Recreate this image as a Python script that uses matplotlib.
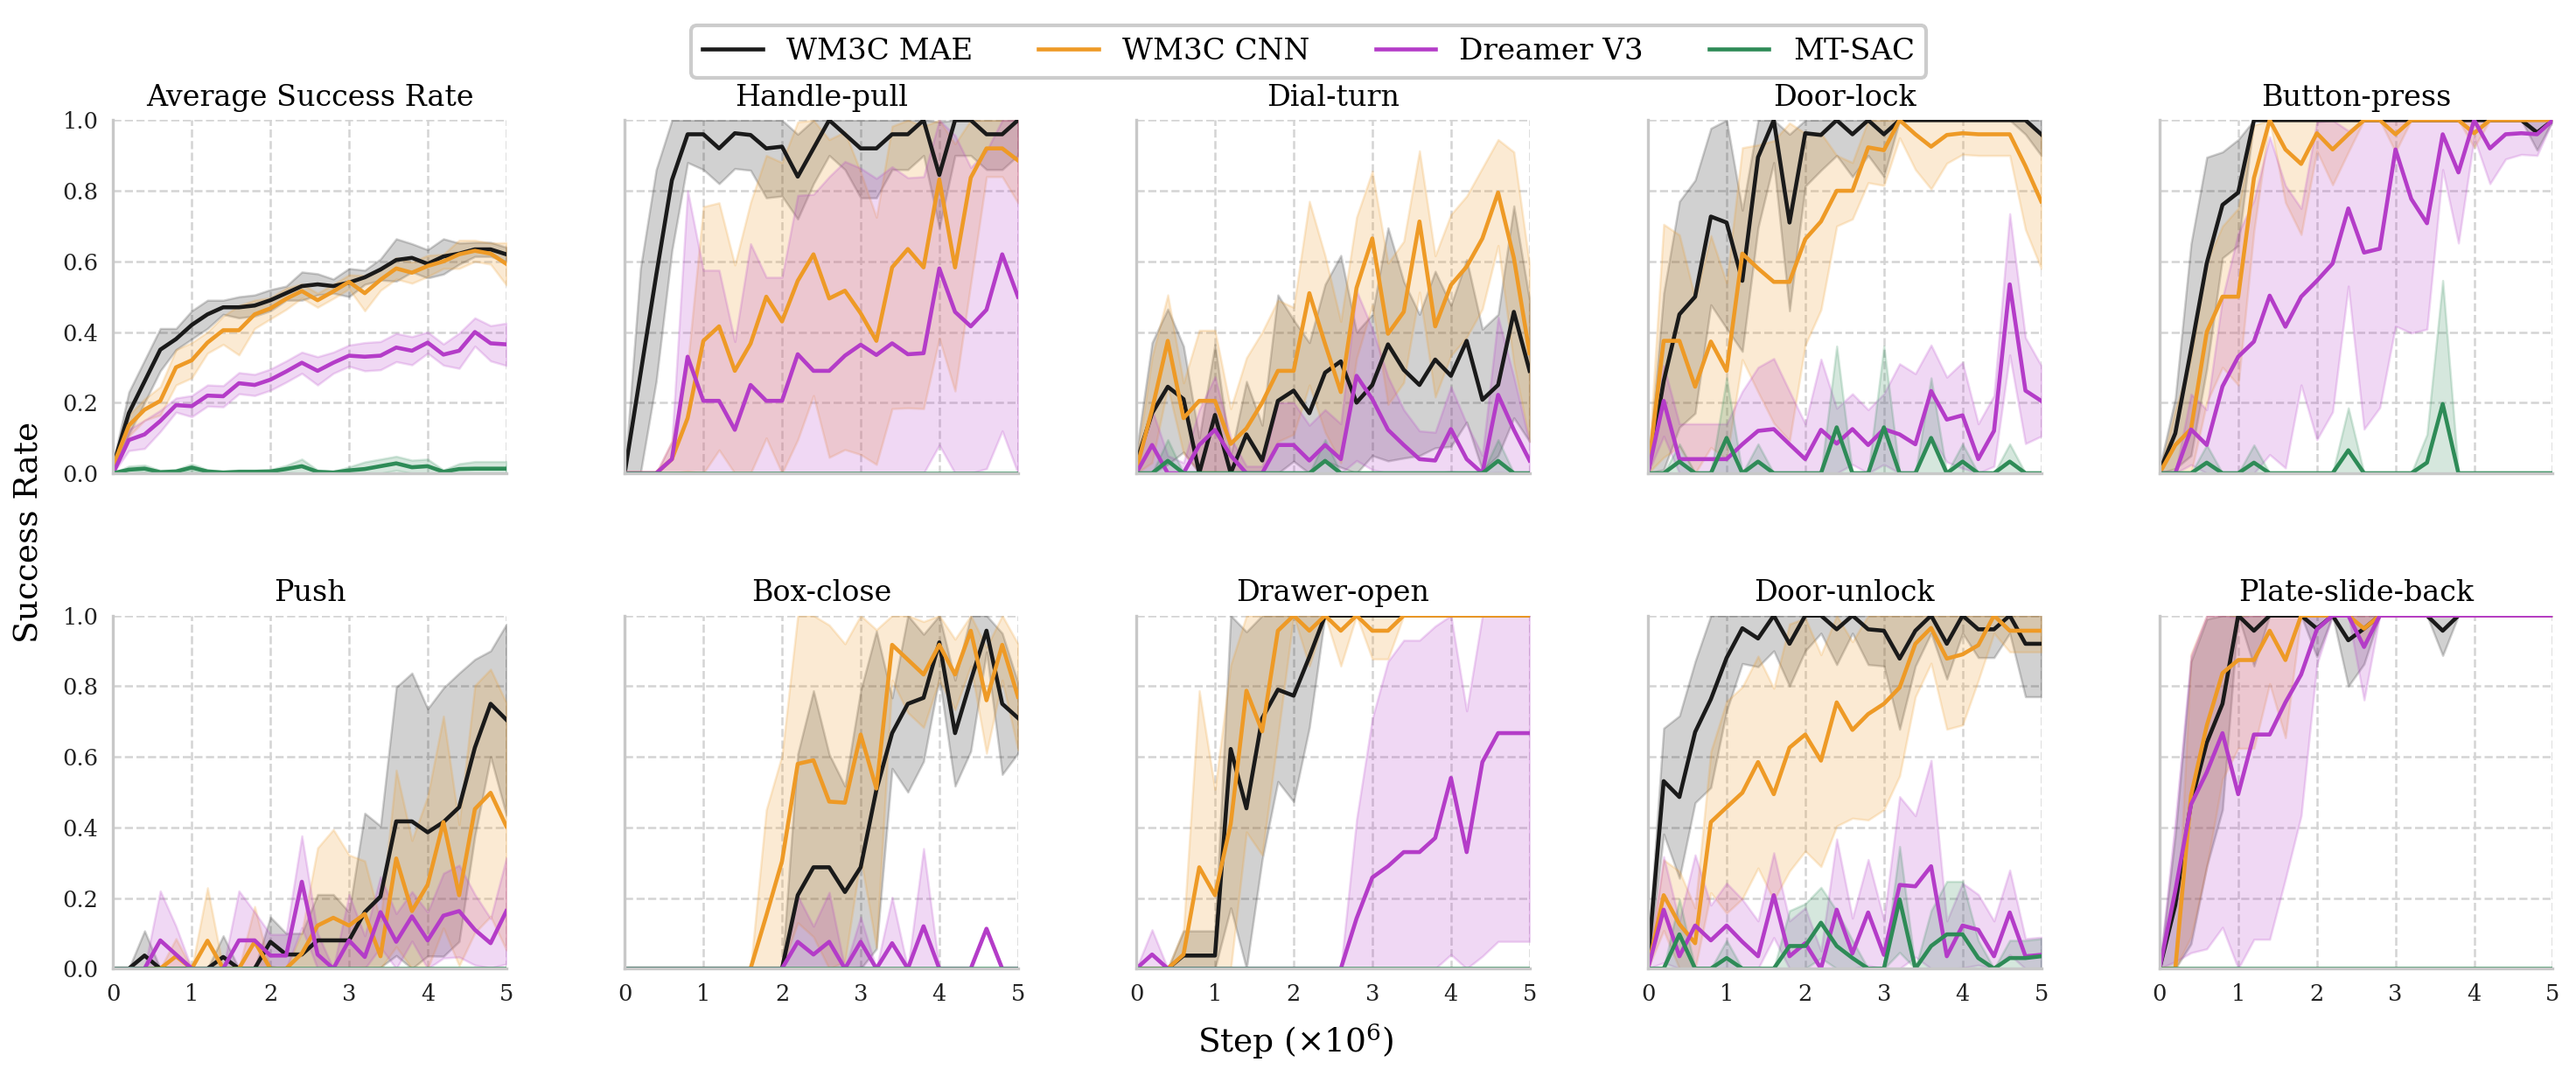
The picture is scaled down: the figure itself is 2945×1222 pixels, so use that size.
import numpy as np
import matplotlib
matplotlib.use("Agg")
import matplotlib.pyplot as plt

# ----------- Data -------------------------------------
STEPS = [0.0, 0.2, 0.4, 0.6, 0.8, 1.0, 1.2, 1.4, 1.6, 1.8, 2.0, 2.2, 2.4,
         2.6, 2.8, 3.0, 3.2, 3.4, 3.6, 3.8, 4.0, 4.2, 4.4, 4.6, 4.8, 5.0]

METHODS = ["WM3C MAE", "WM3C CNN", "Dreamer V3", "MT-SAC"]
TASKS = ["Average Success Rate", "Handle-pull", "Dial-turn", "Door-lock", "Button-press",
         "Push", "Box-close", "Drawer-open", "Door-unlock", "Plate-slide-back"]

ZERO = [0.0] * 26

# Average Success Rate
avg_mae = [0.02, 0.17, 0.26, 0.35, 0.38, 0.42, 0.45, 0.47, 0.47, 0.475, 0.49, 0.51, 0.53,
           0.535, 0.53, 0.54, 0.555, 0.577, 0.604, 0.61, 0.593, 0.614, 0.622, 0.634, 0.634, 0.62]
avg_mae_sd = [0.01, 0.06, 0.06, 0.06, 0.03, 0.04, 0.04, 0.02, 0.03, 0.03, 0.03, 0.02, 0.04,
              0.03, 0.02, 0.04, 0.02, 0.03, 0.06, 0.04, 0.04, 0.05, 0.03, 0.02, 0.02, 0.02]
avg_cnn = [0.02, 0.135, 0.18, 0.205, 0.30, 0.32, 0.37, 0.405, 0.405, 0.45, 0.467, 0.494, 0.516,
           0.49, 0.515, 0.542, 0.51, 0.548, 0.58, 0.568, 0.587, 0.60, 0.62, 0.63, 0.622, 0.593]
avg_cnn_sd = [0.01, 0.03, 0.03, 0.04, 0.05, 0.05, 0.03, 0.04, 0.07, 0.04, 0.03, 0.03, 0.02,
              0.02, 0.02, 0.02, 0.05, 0.03, 0.03, 0.03, 0.03, 0.02, 0.04, 0.03, 0.03, 0.06]
avg_dreamer = [0.0, 0.094, 0.11, 0.148, 0.193, 0.19, 0.22, 0.218, 0.255, 0.25, 0.265, 0.288, 0.313,
               0.29, 0.313, 0.333, 0.33, 0.333, 0.356, 0.347, 0.37, 0.336, 0.347, 0.40, 0.368, 0.365]
avg_dreamer_sd = [0.01, 0.03, 0.04, 0.03, 0.02, 0.03, 0.03, 0.03, 0.03, 0.03, 0.03, 0.03, 0.03,
                  0.04, 0.03, 0.03, 0.04, 0.04, 0.04, 0.04, 0.03, 0.03, 0.05, 0.04, 0.05, 0.06]
avg_sac = [0.0, 0.01, 0.013, 0.003, 0.005, 0.016, 0.005, 0.002, 0.004, 0.004, 0.005, 0.012, 0.02,
           0.004, 0.002, 0.008, 0.012, 0.02, 0.028, 0.017, 0.02, 0.004, 0.012, 0.013, 0.013, 0.013]
avg_sac_sd = [0.0, 0.01, 0.01, 0.005, 0.005, 0.01, 0.005, 0.003, 0.005, 0.005, 0.005, 0.01, 0.02,
              0.005, 0.003, 0.01, 0.02, 0.02, 0.02, 0.02, 0.02, 0.005, 0.015, 0.02, 0.02, 0.02]

# Handle-pull
hp_mae = [0.0, 0.28, 0.56, 0.83, 0.96, 0.96, 0.92, 0.963, 0.958, 0.92, 0.925, 0.84, 0.92,
          1.0, 0.96, 0.92, 0.92, 0.96, 0.96, 1.0, 0.845, 1.0, 1.0, 0.96, 0.96, 1.0]
hp_mae_sd = [0.0, 0.3, 0.3, 0.2, 0.08, 0.1, 0.1, 0.1, 0.1, 0.14, 0.14, 0.12, 0.1,
             0.1, 0.1, 0.14, 0.14, 0.1, 0.1, 0.1, 0.15, 0.1, 0.1, 0.1, 0.1, 0.1]
hp_cnn = [0.0, 0.0, 0.0, 0.04, 0.156, 0.375, 0.416, 0.29, 0.367, 0.5, 0.43, 0.545, 0.62,
          0.495, 0.517, 0.453, 0.375, 0.583, 0.635, 0.583, 0.832, 0.583, 0.837, 0.92, 0.92, 0.886]
hp_cnn_sd = [0.0, 0.0, 0.0, 0.05, 0.15, 0.38, 0.35, 0.3, 0.4, 0.4, 0.45, 0.45, 0.4,
             0.45, 0.45, 0.4, 0.35, 0.4, 0.45, 0.4, 0.45, 0.35, 0.3, 0.08, 0.08, 0.12]
hp_dreamer = [0.0, 0.0, 0.0, 0.04, 0.33, 0.205, 0.205, 0.123, 0.25, 0.205, 0.205, 0.337, 0.29,
              0.29, 0.333, 0.364, 0.335, 0.368, 0.337, 0.34, 0.58, 0.457, 0.416, 0.463, 0.62, 0.5]
hp_dreamer_sd = [0.0, 0.0, 0.0, 0.05, 0.47, 0.37, 0.37, 0.25, 0.4, 0.35, 0.35, 0.45, 0.5,
                 0.55, 0.55, 0.5, 0.5, 0.5, 0.5, 0.5, 0.5, 0.5, 0.45, 0.45, 0.5, 0.5]

# Dial-turn
dt_mae = [0.03, 0.17, 0.245, 0.21, 0.0, 0.165, 0.0, 0.11, 0.036, 0.205, 0.234, 0.17, 0.285,
          0.317, 0.2, 0.25, 0.365, 0.293, 0.25, 0.322, 0.276, 0.375, 0.208, 0.25, 0.457, 0.29]
dt_mae_sd = [0.03, 0.2, 0.22, 0.15, 0.1, 0.2, 0.05, 0.15, 0.1, 0.3, 0.2, 0.2, 0.25,
             0.3, 0.2, 0.2, 0.33, 0.25, 0.2, 0.25, 0.2, 0.23, 0.2, 0.2, 0.3, 0.2]
dt_cnn = [0.01, 0.18, 0.375, 0.156, 0.205, 0.205, 0.083, 0.127, 0.2, 0.29, 0.29, 0.51, 0.366,
          0.23, 0.525, 0.665, 0.395, 0.457, 0.713, 0.416, 0.533, 0.585, 0.665, 0.795, 0.61, 0.34]
dt_cnn_sd = [0.02, 0.15, 0.13, 0.1, 0.2, 0.2, 0.1, 0.2, 0.2, 0.2, 0.18, 0.26, 0.25,
             0.2, 0.2, 0.19, 0.2, 0.2, 0.2, 0.2, 0.2, 0.2, 0.2, 0.15, 0.3, 0.25]
dt_dreamer = [0.0, 0.08, 0.0, 0.0, 0.08, 0.123, 0.05, 0.0, 0.0, 0.08, 0.08, 0.036, 0.08,
              0.04, 0.276, 0.21, 0.123, 0.08, 0.04, 0.036, 0.125, 0.04, 0.0, 0.222, 0.123, 0.036]
dt_dreamer_sd = [0.0, 0.1, 0.05, 0.03, 0.1, 0.15, 0.05, 0.02, 0.02, 0.12, 0.12, 0.1, 0.1,
                 0.1, 0.24, 0.2, 0.15, 0.1, 0.08, 0.08, 0.12, 0.1, 0.05, 0.22, 0.15, 0.05]
dt_sac = [0.0, 0.0, 0.035, 0.0, 0.0, 0.0, 0.0, 0.0, 0.0, 0.0, 0.0, 0.0, 0.035,
          0.0, 0.0, 0.0, 0.0, 0.0, 0.0, 0.0, 0.0, 0.0, 0.0, 0.035, 0.0, 0.0]
dt_sac_sd = [0.0, 0.0, 0.06, 0.0, 0.0, 0.0, 0.0, 0.0, 0.0, 0.0, 0.0, 0.0, 0.06,
             0.0, 0.0, 0.0, 0.0, 0.0, 0.0, 0.0, 0.0, 0.0, 0.0, 0.06, 0.0, 0.0]

# Door-lock
dl_mae = [0.0, 0.26, 0.45, 0.5, 0.727, 0.71, 0.545, 0.895, 1.0, 0.71, 0.963, 0.958, 1.0,
          0.96, 1.0, 0.96, 1.0, 1.0, 1.0, 1.0, 1.0, 1.0, 1.0, 1.0, 1.0, 0.96]
dl_mae_sd = [0.0, 0.25, 0.32, 0.33, 0.25, 0.3, 0.2, 0.2, 0.12, 0.25, 0.15, 0.1, 0.1,
             0.12, 0.1, 0.12, 0.0, 0.0, 0.0, 0.0, 0.0, 0.0, 0.0, 0.0, 0.04, 0.06]
dl_cnn = [0.0, 0.375, 0.375, 0.245, 0.373, 0.29, 0.622, 0.58, 0.542, 0.542, 0.663, 0.713, 0.8,
          0.8, 0.923, 0.915, 1.0, 0.96, 0.925, 0.958, 0.963, 0.96, 0.96, 0.96, 0.87, 0.77]
dl_cnn_sd = [0.0, 0.33, 0.3, 0.25, 0.3, 0.25, 0.3, 0.35, 0.4, 0.45, 0.3, 0.25, 0.1,
             0.08, 0.1, 0.1, 0.05, 0.1, 0.12, 0.08, 0.06, 0.06, 0.06, 0.06, 0.18, 0.19]
dl_dreamer = [0.0, 0.205, 0.04, 0.04, 0.04, 0.04, 0.082, 0.12, 0.125, 0.082, 0.04, 0.123, 0.084,
              0.125, 0.08, 0.125, 0.11, 0.082, 0.233, 0.152, 0.164, 0.04, 0.12, 0.535, 0.234, 0.205]
dl_dreamer_sd = [0.0, 0.1, 0.1, 0.1, 0.1, 0.1, 0.15, 0.18, 0.2, 0.15, 0.1, 0.2, 0.1,
                 0.1, 0.1, 0.1, 0.2, 0.2, 0.13, 0.12, 0.15, 0.1, 0.1, 0.2, 0.15, 0.1]
dl_sac = [0.0, 0.0, 0.033, 0.0, 0.0, 0.1, 0.0, 0.033, 0.0, 0.0, 0.0, 0.0, 0.13,
          0.0, 0.0, 0.13, 0.0, 0.0, 0.1, 0.0, 0.033, 0.0, 0.0, 0.033, 0.0, 0.0]
dl_sac_sd = [0.0, 0.0, 0.05, 0.0, 0.0, 0.17, 0.0, 0.05, 0.0, 0.0, 0.0, 0.0, 0.23,
             0.0, 0.0, 0.23, 0.0, 0.0, 0.17, 0.0, 0.05, 0.0, 0.0, 0.05, 0.0, 0.0]

# Button-press
bp_mae = [0.005, 0.113, 0.35, 0.595, 0.76, 0.795, 1.0, 1.0, 1.0, 1.0, 1.0, 1.0, 1.0,
          1.0, 1.0, 1.0, 1.0, 1.0, 1.0, 1.0, 1.0, 1.0, 1.0, 1.0, 0.965, 1.0]
bp_mae_sd = [0.01, 0.1, 0.3, 0.3, 0.15, 0.15, 0.0, 0.0, 0.0, 0.0, 0.0, 0.0, 0.0,
             0.0, 0.0, 0.0, 0.0, 0.0, 0.0, 0.0, 0.0, 0.0, 0.0, 0.0, 0.05, 0.0]
bp_cnn = [0.0, 0.08, 0.125, 0.4, 0.5, 0.5, 0.836, 1.0, 0.917, 0.876, 0.963, 0.917, 0.96,
          1.0, 1.0, 0.96, 1.0, 1.0, 1.0, 1.0, 0.963, 1.0, 1.0, 1.0, 1.0, 1.0]
bp_cnn_sd = [0.0, 0.1, 0.2, 0.2, 0.2, 0.25, 0.15, 0.0, 0.15, 0.2, 0.05, 0.1, 0.05,
             0.0, 0.0, 0.05, 0.0, 0.0, 0.0, 0.0, 0.04, 0.0, 0.0, 0.0, 0.0, 0.0]
bp_dreamer = [0.0, 0.0, 0.124, 0.08, 0.246, 0.33, 0.373, 0.503, 0.415, 0.5, 0.545, 0.594, 0.75,
              0.625, 0.636, 0.917, 0.777, 0.708, 0.96, 0.852, 1.0, 0.92, 0.96, 0.963, 0.96, 1.0]
bp_dreamer_sd = [0.0, 0.0, 0.1, 0.1, 0.25, 0.35, 0.4, 0.45, 0.4, 0.25, 0.45, 0.42, 0.22,
                 0.5, 0.45, 0.5, 0.38, 0.3, 0.1, 0.2, 0.05, 0.1, 0.07, 0.06, 0.06, 0.0]
bp_sac = [0.0, 0.0, 0.0, 0.03, 0.0, 0.0, 0.03, 0.0, 0.0, 0.0, 0.0, 0.0, 0.065,
          0.0, 0.0, 0.0, 0.0, 0.03, 0.196, 0.0, 0.0, 0.0, 0.0, 0.0, 0.0, 0.0]
bp_sac_sd = [0.0, 0.0, 0.0, 0.05, 0.0, 0.0, 0.05, 0.0, 0.0, 0.0, 0.0, 0.0, 0.12,
             0.0, 0.0, 0.0, 0.0, 0.08, 0.35, 0.0, 0.0, 0.0, 0.0, 0.0, 0.0, 0.0]

# Push
pu_mae = [0.0, 0.0, 0.037, 0.0, 0.0, 0.0, 0.0, 0.033, 0.0, 0.0, 0.076, 0.04, 0.04,
          0.08, 0.08, 0.08, 0.16, 0.204, 0.417, 0.417, 0.386, 0.415, 0.457, 0.626, 0.75, 0.705]
pu_mae_sd = [0.0, 0.0, 0.07, 0.0, 0.0, 0.0, 0.0, 0.06, 0.0, 0.0, 0.07, 0.06, 0.06,
             0.13, 0.13, 0.08, 0.28, 0.2, 0.38, 0.42, 0.35, 0.38, 0.38, 0.25, 0.15, 0.27]
pu_cnn = [0.0, 0.0, 0.0, 0.0, 0.035, 0.0, 0.079, 0.0, 0.0, 0.076, 0.0, 0.0, 0.043,
          0.122, 0.144, 0.122, 0.155, 0.035, 0.312, 0.163, 0.238, 0.415, 0.208, 0.452, 0.498, 0.403]
pu_cnn_sd = [0.0, 0.0, 0.0, 0.0, 0.05, 0.0, 0.15, 0.0, 0.0, 0.1, 0.0, 0.0, 0.06,
             0.22, 0.25, 0.2, 0.15, 0.1, 0.25, 0.2, 0.25, 0.3, 0.2, 0.35, 0.35, 0.35]
pu_dreamer = [0.0, 0.0, 0.0, 0.08, 0.04, 0.0, 0.0, 0.0, 0.08, 0.08, 0.037, 0.037, 0.246,
              0.04, 0.0, 0.08, 0.033, 0.16, 0.076, 0.148, 0.08, 0.15, 0.163, 0.11, 0.072, 0.163]
pu_dreamer_sd = [0.0, 0.0, 0.0, 0.14, 0.08, 0.0, 0.0, 0.0, 0.14, 0.08, 0.06, 0.06, 0.13,
                 0.06, 0.0, 0.13, 0.06, 0.1, 0.08, 0.07, 0.08, 0.12, 0.13, 0.1, 0.07, 0.15]

# Box-close
bc_mae = [0.0] * 11 + [0.208, 0.287, 0.287, 0.217, 0.287, 0.506, 0.667, 0.75, 0.767, 0.924,
                       0.667, 0.816, 0.957, 0.75, 0.71]
bc_mae_sd = [0.0] * 11 + [0.4, 0.5, 0.32, 0.3, 0.5, 0.45, 0.1, 0.25, 0.18, 0.1,
                          0.15, 0.2, 0.06, 0.2, 0.1]
bc_cnn = [0.0] * 9 + [0.15, 0.304, 0.58, 0.59, 0.473, 0.47, 0.663, 0.51, 0.917, 0.875,
                      0.833, 0.917, 0.833, 0.957, 0.76, 0.917, 0.77]
bc_cnn_sd = [0.0] * 9 + [0.3, 0.3, 0.45, 0.5, 0.5, 0.45, 0.35, 0.45, 0.1, 0.15,
                         0.15, 0.1, 0.1, 0.1, 0.15, 0.1, 0.15]
bc_dreamer = [0.0] * 11 + [0.076, 0.04, 0.076, 0.0, 0.076, 0.0, 0.072, 0.0, 0.12, 0.0,
                           0.0, 0.0, 0.113, 0.0, 0.0]
bc_dreamer_sd = [0.0] * 11 + [0.13, 0.08, 0.14, 0.0, 0.07, 0.0, 0.13, 0.0, 0.22, 0.0,
                              0.0, 0.0, 0.0, 0.0, 0.0]

# Drawer-open
do_mae = [0.0, 0.0, 0.0, 0.037, 0.037, 0.037, 0.622, 0.454, 0.709, 0.79, 0.773, 0.883] + [1.0] * 14
do_mae_sd = [0.0, 0.0, 0.0, 0.07, 0.07, 0.07, 0.45, 0.5, 0.4, 0.26, 0.3, 0.2] + [0.0] * 14
do_cnn = [0.0, 0.0, 0.0, 0.04, 0.287, 0.208, 0.41, 0.787, 0.672, 0.957, 1.0, 0.957, 1.0,
          0.957, 1.0, 0.957, 0.957, 1.0] + [1.0] * 8
do_cnn_sd = [0.0, 0.0, 0.0, 0.07, 0.5, 0.3, 0.45, 0.4, 0.35, 0.3, 0.0, 0.1, 0.0,
             0.1, 0.0, 0.08, 0.08, 0.0] + [0.0] * 8
do_dreamer = [0.0, 0.04, 0.0, 0.0, 0.0, 0.0, 0.0, 0.0, 0.0, 0.0, 0.0, 0.0, 0.0,
              0.0, 0.142, 0.258, 0.29, 0.33, 0.33, 0.37, 0.54, 0.33, 0.585, 0.667, 0.667, 0.667]
do_dreamer_sd = [0.0, 0.07, 0.0, 0.0, 0.0, 0.0, 0.0, 0.0, 0.0, 0.0, 0.0, 0.0, 0.0,
                 0.0, 0.28, 0.45, 0.58, 0.6, 0.6, 0.6, 0.5, 0.4, 0.55, 0.59, 0.59, 0.59]

# Door-unlock
du_mae = [0.02, 0.531, 0.486, 0.67, 0.763, 0.88, 0.964, 0.935, 1.0, 0.92, 1.0, 1.0, 0.961,
          1.0, 0.961, 0.957, 0.878, 0.957, 1.0, 0.92, 1.0, 0.961, 0.961, 1.0, 0.92, 0.92]
du_mae_sd = [0.03, 0.15, 0.23, 0.2, 0.25, 0.15, 0.1, 0.08, 0.1, 0.12, 0.1, 0.05, 0.1,
             0.05, 0.1, 0.1, 0.2, 0.1, 0.05, 0.1, 0.05, 0.08, 0.08, 0.05, 0.15, 0.15]
du_cnn = [0.0, 0.208, 0.126, 0.072, 0.415, 0.457, 0.498, 0.585, 0.494, 0.626, 0.663, 0.589, 0.754,
          0.676, 0.721, 0.75, 0.796, 0.92, 0.965, 0.878, 0.89, 0.916, 1.0, 0.957, 0.957, 0.957]
du_cnn_sd = [0.0, 0.1, 0.15, 0.1, 0.2, 0.3, 0.3, 0.3, 0.3, 0.35, 0.33, 0.3, 0.35,
             0.25, 0.3, 0.3, 0.25, 0.15, 0.1, 0.2, 0.2, 0.1, 0.05, 0.06, 0.06, 0.06]
du_dreamer = [0.0, 0.167, 0.035, 0.122, 0.08, 0.122, 0.076, 0.035, 0.208, 0.035, 0.072, 0.0, 0.167,
              0.043, 0.159, 0.039, 0.237, 0.233, 0.29, 0.035, 0.122, 0.11, 0.035, 0.159, 0.035, 0.039]
du_dreamer_sd = [0.0, 0.15, 0.1, 0.2, 0.1, 0.12, 0.12, 0.1, 0.12, 0.1, 0.1, 0.05, 0.2,
                 0.1, 0.15, 0.1, 0.25, 0.2, 0.3, 0.1, 0.12, 0.1, 0.1, 0.12, 0.05, 0.05]
du_sac = [0.0, 0.0, 0.097, 0.0, 0.0, 0.03, 0.0, 0.0, 0.0, 0.064, 0.064, 0.13, 0.064,
          0.03, 0.0, 0.0, 0.196, 0.0, 0.064, 0.097, 0.097, 0.03, 0.0, 0.03, 0.03, 0.035]
du_sac_sd = [0.0, 0.0, 0.1, 0.0, 0.0, 0.05, 0.0, 0.0, 0.0, 0.1, 0.12, 0.1, 0.1,
             0.05, 0.0, 0.0, 0.15, 0.0, 0.1, 0.15, 0.15, 0.05, 0.0, 0.05, 0.05, 0.05]

# Plate-slide-back
ps_mae = [0.0, 0.18, 0.47, 0.64, 0.75, 1.0, 0.957, 1.0, 1.0, 1.0, 0.963, 1.0, 0.93,
          0.963, 1.0, 1.0, 1.0, 1.0, 0.957] + [1.0] * 7
ps_mae_sd = [0.0, 0.2, 0.4, 0.35, 0.3, 0.0, 0.1, 0.0, 0.0, 0.0, 0.08, 0.0, 0.13,
             0.1, 0.0, 0.0, 0.0, 0.0, 0.07] + [0.0] * 7
ps_cnn = [0.0, 0.0, 0.49, 0.688, 0.837, 0.874, 0.874, 0.957, 0.874, 1.0, 1.0, 1.0, 1.0,
          0.963, 1.0] + [1.0] * 11
ps_cnn_sd = [0.0, 0.0, 0.4, 0.4, 0.3, 0.25, 0.25, 0.15, 0.22, 0.0, 0.0, 0.0, 0.0,
             0.05, 0.0] + [0.0] * 11
ps_dreamer = [0.0, 0.22, 0.465, 0.556, 0.667, 0.494, 0.663, 0.663, 0.754, 0.833, 0.961, 1.0, 1.0,
              0.911, 1.0] + [1.0] * 11
ps_dreamer_sd = [0.0, 0.2, 0.42, 0.5, 0.55, 0.5, 0.58, 0.58, 0.5, 0.4, 0.1, 0.0, 0.0,
                 0.15, 0.0] + [0.0] * 11

# (mean, spread) per method, per task
PANELS = [
    [(avg_mae, avg_mae_sd), (avg_cnn, avg_cnn_sd), (avg_dreamer, avg_dreamer_sd), (avg_sac, avg_sac_sd)],
    [(hp_mae, hp_mae_sd), (hp_cnn, hp_cnn_sd), (hp_dreamer, hp_dreamer_sd), (ZERO, ZERO)],
    [(dt_mae, dt_mae_sd), (dt_cnn, dt_cnn_sd), (dt_dreamer, dt_dreamer_sd), (dt_sac, dt_sac_sd)],
    [(dl_mae, dl_mae_sd), (dl_cnn, dl_cnn_sd), (dl_dreamer, dl_dreamer_sd), (dl_sac, dl_sac_sd)],
    [(bp_mae, bp_mae_sd), (bp_cnn, bp_cnn_sd), (bp_dreamer, bp_dreamer_sd), (bp_sac, bp_sac_sd)],
    [(pu_mae, pu_mae_sd), (pu_cnn, pu_cnn_sd), (pu_dreamer, pu_dreamer_sd), (ZERO, ZERO)],
    [(bc_mae, bc_mae_sd), (bc_cnn, bc_cnn_sd), (bc_dreamer, bc_dreamer_sd), (ZERO, ZERO)],
    [(do_mae, do_mae_sd), (do_cnn, do_cnn_sd), (do_dreamer, do_dreamer_sd), (ZERO, ZERO)],
    [(du_mae, du_mae_sd), (du_cnn, du_cnn_sd), (du_dreamer, du_dreamer_sd), (du_sac, du_sac_sd)],
    [(ps_mae, ps_mae_sd), (ps_cnn, ps_cnn_sd), (ps_dreamer, ps_dreamer_sd), (ZERO, ZERO)],
]

COLORS = ["#1a1a1a", "#EE9A26", "#B43CC8", "#2E8B57"]
# -------------------------------------------------------

plt.rcParams["font.family"] = ["DejaVu Serif"]
plt.rcParams["mathtext.fontset"] = "dejavuserif"


def style_axis(ax):
    ax.set_xlim(0, 5)
    ax.set_ylim(0, 1)
    ax.set_xticks([0, 1, 2, 3, 4, 5])
    ax.set_yticks([0.0, 0.2, 0.4, 0.6, 0.8, 1.0])
    ax.grid(True, linestyle="--", color="#d4d4d4", linewidth=0.6)
    ax.set_axisbelow(True)
    for side in ("top", "right"):
        ax.spines[side].set_visible(False)
    for side in ("left", "bottom"):
        ax.spines[side].set_color("#c8c8c8")
        ax.spines[side].set_linewidth(0.8)
    ax.tick_params(length=0, pad=4, labelsize=6.2, colors="#222222")


fig, axes = plt.subplots(2, 5, figsize=(2945 / 300, 1222 / 300), dpi=300,
                         sharex=True, sharey=True)
fig.subplots_adjust(left=0.0439, right=0.991, top=0.8876, bottom=0.0939,
                    wspace=0.301, hspace=0.403)

x = np.array(STEPS)
handles = []
for ax, task, series in zip(axes.flat, TASKS, PANELS):
    for (mean, sd), color, name in zip(series, COLORS, METHODS):
        mean = np.array(mean)
        sd = np.array(sd)
        lo = np.clip(mean - sd, 0, 1)
        hi = np.clip(mean + sd, 0, 1)
        ax.fill_between(x, lo, hi, color=color, alpha=0.2, linewidth=0.6)
        line, = ax.plot(x, mean, color=color, linewidth=1.1, label=name)
        if task == TASKS[0]:
            handles.append(line)
    ax.set_title(task, fontsize=8, pad=4)
    style_axis(ax)

fig.legend(handles, METHODS, loc="upper center", bbox_to_anchor=(0.508, 0.99),
           ncol=4, fontsize=8.2, frameon=True, edgecolor="#cccccc", framealpha=1,
           columnspacing=2.2, handlelength=2.0)
fig.text(0.0115, 0.5025, "Success Rate", rotation=90, va="center", ha="center", fontsize=9)
fig.text(0.503, 0.026, r"Step ($\times 10^6$)", va="center", ha="center", fontsize=9)

fig.savefig("out.png", dpi=300)
